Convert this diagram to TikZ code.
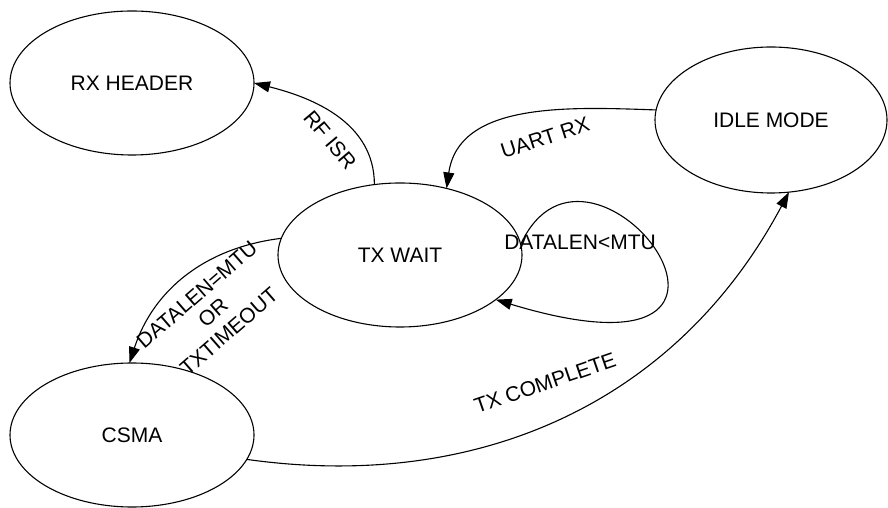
\documentclass[tikz,border=0pt]{standalone}
\usepackage{fontspec}
\setmainfont{Liberation Sans}
\usetikzlibrary{shapes.geometric,arrows.meta}
\tikzset{
	state/.style={draw, ellipse, line width=1.1pt, inner sep=0pt, outer sep=0pt, minimum width=244pt, minimum height=144pt},
	trans/.style={line width=1.1pt, -{Triangle[length=16pt,width=11pt]}},
	lbl/.style={inner sep=0pt}
}
\begin{document}
\begin{tikzpicture}[x=1pt, y=1pt, every node/.append style={font=\fontsize{21}{24.5}\selectfont}]
	\useasboundingbox (0,0) rectangle (888,508);
	
	\node[state] (rxheader) at (132,425) {RX HEADER};
	\node[state, minimum width=232pt, minimum height=146pt] (idle) at (771,388) {IDLE MODE};
	\node[state] (txwait) at (400,253) {TX WAIT};
	\node[state] (csma) at (132,73) {CSMA};
	
	\draw[trans] (idle.175) to[out=178, in=82] (txwait.55);
	\draw[trans] (txwait.110) to[out=90, in=-14] (rxheader.east);
	\draw[trans] (txwait.172) to[out=187, in=72] (csma.92);
	\draw[trans] (txwait.5) .. controls (590,415) and (820,110) .. (txwait.-25);
	\draw[trans] (csma.-12) to[out=-8, in=-118] (idle.-76);
	
	\node[lbl, rotate=18] (uartrx) at (545,370) {UART RX};
	\node[lbl, rotate=-50] (rfisr) at (330,368) {RF ISR};
	\node[lbl, rotate=41, align=center] (mtuor) at (213,195) {DATALEN=MTU\\OR\\TXTIMEOUT};
	\node[lbl] (lessmtu) at (580,266) {DATALEN<MTU};
	\node[lbl, rotate=19] (txdone) at (545,125) {TX COMPLETE};
\end{tikzpicture}
\end{document}
